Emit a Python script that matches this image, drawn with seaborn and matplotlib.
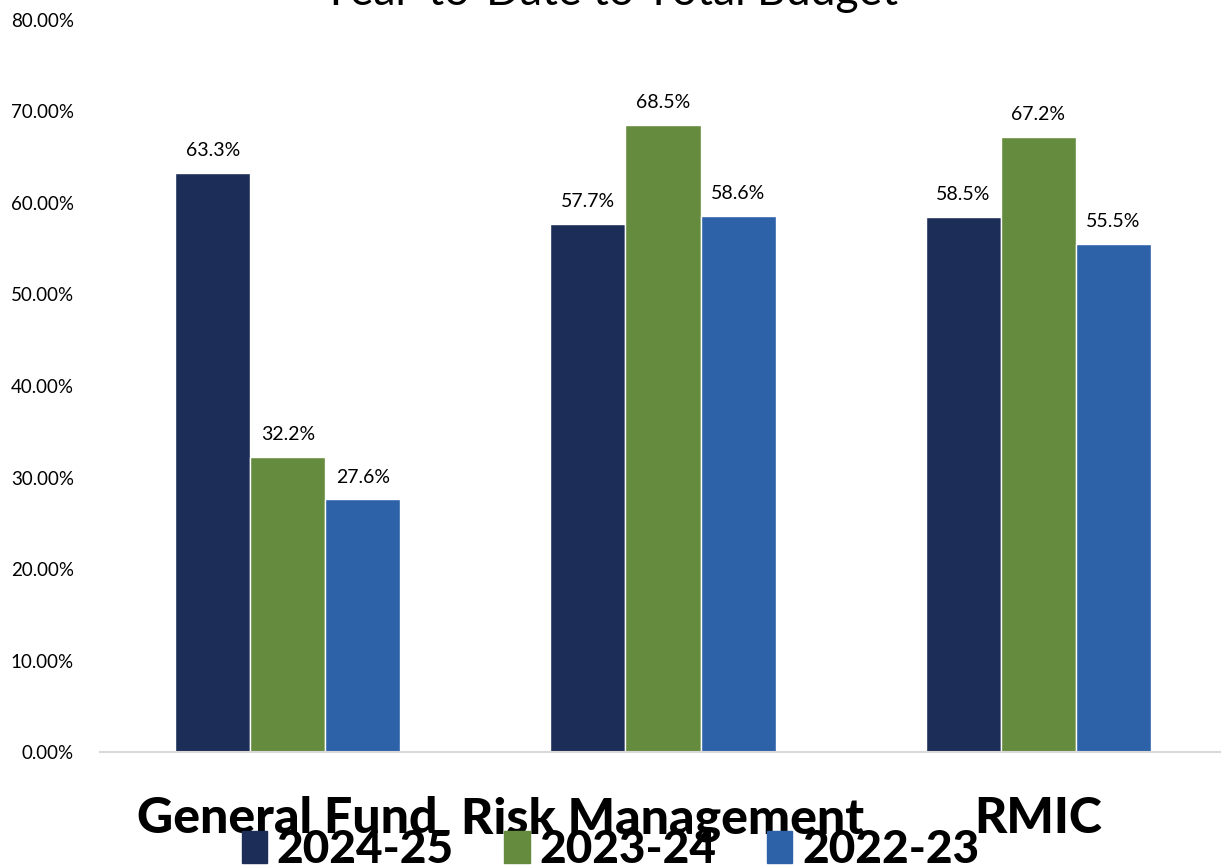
import matplotlib.pyplot as plt
import seaborn as sns
import pandas as pd

sns.set_style('white')
plt.rcParams['font.family'] = ['Lato', 'DejaVu Sans']
plt.rcParams['text.color'] = 'black'
plt.rcParams['xtick.color'] = 'black'
plt.rcParams['ytick.color'] = 'black'

funds = ['General Fund', 'Risk Management', 'RMIC']
years = ['2024-25', '2023-24', '2022-23']
pct_2425 = [63.3, 57.7, 58.5]
pct_2324 = [32.2, 68.5, 67.2]
pct_2223 = [27.6, 58.6, 55.5]
colors = ['#1c2d57', '#648b3e', '#2e62a8']

rows = []
for yr, vals in zip(years, [pct_2425, pct_2324, pct_2223]):
    for f, v in zip(funds, vals):
        rows.append({'Fund': f, 'Year': yr, 'Pct': v})
df = pd.DataFrame(rows)

fig = plt.figure(figsize=(12.21, 8.67), dpi=100)
ax = fig.add_axes([0.082, 0.1326, 0.922, 0.8444])

sns.barplot(data=df, x='Fund', y='Pct', hue='Year', palette=colors,
            width=0.6, gap=0, saturation=1, ax=ax, legend=False)

for cont in ax.containers:
    ax.bar_label(cont, labels=['{:.1f}%'.format(b.get_height()) for b in cont],
                 padding=10, fontsize=14, color='black')

ax.set_ylim(0, 80)
ax.set_xlim(-0.5, 2.5)
ax.set_yticks(range(0, 81, 10))
ax.set_yticklabels(['{:.2f}%'.format(t) for t in range(0, 81, 10)], fontsize=13.5)
ax.tick_params(axis='y', length=0, pad=19, labelcolor='black')
ax.tick_params(axis='x', length=0, pad=32, labelcolor='black')
for lbl in ax.get_xticklabels():
    lbl.set_fontsize(36)
    lbl.set_fontweight('black')
ax.set_xlabel('')
ax.set_ylabel('')
for s in ['top', 'right', 'left']:
    ax.spines[s].set_visible(False)
ax.spines['bottom'].set_color('#d9d9d9')
ax.spines['bottom'].set_linewidth(1.5)

handles = [plt.Rectangle((0, 0), 1, 1, color=c) for c in colors]
fig.legend(handles, years, loc='center', bbox_to_anchor=(0.5, 1 - 850 / 867),
           ncol=3, frameon=False, prop={'size': 33, 'weight': 'black'},
           handlelength=0.55, handleheight=0.7, handletextpad=0.22, columnspacing=1.1,
           labelcolor='black')

fig.text(0.5, 1 - 5 / 867, 'Year-to-Date to Total Budget', ha='center', va='baseline',
         fontsize=32, color='black')

fig.savefig('out.png', dpi=100)
